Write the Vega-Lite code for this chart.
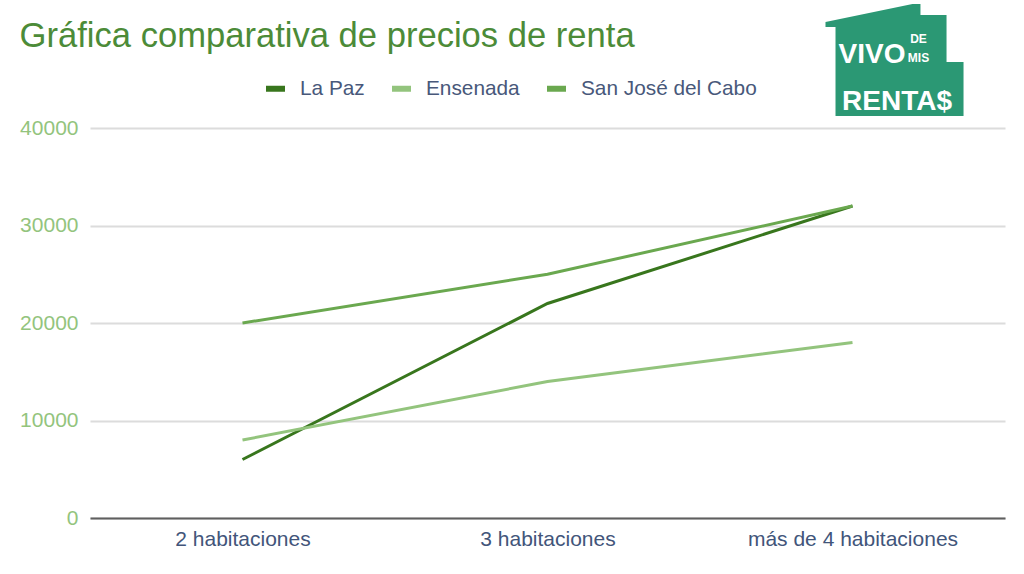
{
  "$schema": "https://vega.github.io/schema/vega-lite/v6.json",
  "width": 915,
  "height": 390,
  "autosize": {"type": "none"},
  "padding": {"left": 90, "top": 128, "right": 19, "bottom": 56},
  "background": "#ffffff",
  "config": {"view": {"stroke": null}, "font": "Liberation Sans"},
  "title": {
    "text": "Gráfica comparativa de precios de renta",
    "anchor": "start",
    "offset": -78,
    "baseline": "alphabetic",
    "fontSize": 34.6,
    "fontWeight": "normal",
    "color": "#4c8b38",
    "font": "Liberation Sans"
  },
  "data": {
    "values": [
      {"ciudad": "La Paz", "habitaciones": "2 habitaciones", "precio": 6000},
      {"ciudad": "La Paz", "habitaciones": "3 habitaciones", "precio": 22000},
      {"ciudad": "La Paz", "habitaciones": "más de 4 habitaciones", "precio": 32000},
      {"ciudad": "Ensenada", "habitaciones": "2 habitaciones", "precio": 8000},
      {"ciudad": "Ensenada", "habitaciones": "3 habitaciones", "precio": 14000},
      {"ciudad": "Ensenada", "habitaciones": "más de 4 habitaciones", "precio": 18000},
      {"ciudad": "San José del Cabo", "habitaciones": "2 habitaciones", "precio": 20000},
      {"ciudad": "San José del Cabo", "habitaciones": "3 habitaciones", "precio": 25000},
      {"ciudad": "San José del Cabo", "habitaciones": "más de 4 habitaciones", "precio": 32000}
    ]
  },
  "layer": [
    {
      "mark": {"type": "line", "strokeWidth": 3},
      "encoding": {
        "x": {
          "field": "habitaciones",
          "type": "nominal",
          "sort": ["2 habitaciones", "3 habitaciones", "más de 4 habitaciones"],
          "scale": {"type": "point", "padding": 0.5},
          "axis": {
            "title": null,
            "labelAngle": 0,
            "labelFontSize": 21,
            "labelFont": "Liberation Sans",
            "labelColor": "#42557a",
            "labelPadding": 10,
            "labelLimit": 400,
            "ticks": false,
            "domainColor": "#5f5f5f",
            "domainWidth": 2,
            "grid": false
          }
        },
        "y": {
          "field": "precio",
          "type": "quantitative",
          "scale": {"domain": [0, 40000], "nice": false},
          "axis": {
            "title": null,
            "values": [0, 10000, 20000, 30000, 40000],
            "format": "d",
            "labelFontSize": 21,
            "labelFont": "Liberation Sans",
            "labelColor": "#93c47d",
            "labelPadding": 12,
            "ticks": false,
            "domain": false,
            "gridColor": "#dcdcdc",
            "gridWidth": 2
          }
        },
        "color": {
          "field": "ciudad",
          "type": "nominal",
          "scale": {
            "domain": ["La Paz", "Ensenada", "San José del Cabo"],
            "range": ["#38761d", "#93c47d", "#6aa84f"]
          },
          "legend": {
            "title": null,
            "orient": "none",
            "direction": "horizontal",
            "legendX": 173,
            "legendY": -52,
            "padding": 0,
            "symbolType": "stroke",
            "symbolSize": 361,
            "symbolStrokeWidth": 6,
            "labelFontSize": 20.8,
            "labelFont": "Liberation Sans",
            "labelColor": "#48587a",
            "labelOffset": 12,
            "labelLimit": 400,
            "columnPadding": 15
          }
        }
      }
    },
    {
      "data": {"values": [{}]},
      "mark": {
        "type": "point",
        "shape": "M-0.375,-0.660 L0.833,-0.910 L0.944,-0.910 L0.944,-0.757 L1.306,-0.757 L1.306,-0.104 L1.542,-0.104 L1.542,0.646 L-0.236,0.646 L-0.236,-0.590 L-0.375,-0.590 Z",
        "size": 20736,
        "filled": true,
        "color": "#2b9874",
        "opacity": 1,
        "strokeWidth": 0
      },
      "encoding": {
        "x": {"datum": "más de 4 habitaciones"},
        "y": {"datum": 46000}
      }
    },
    {
      "data": {"values": [{}]},
      "mark": {"type": "text", "text": "VIVO", "align": "center", "baseline": "alphabetic", "dx": 19.5, "fontSize": 28, "fontWeight": "bold", "font": "Liberation Sans", "color": "#ffffff"},
      "encoding": {
        "x": {"datum": "más de 4 habitaciones"},
        "y": {"datum": 46667}
      }
    },
    {
      "data": {"values": [{}]},
      "mark": {"type": "text", "text": "DE", "align": "center", "baseline": "alphabetic", "dx": 66, "fontSize": 12, "fontWeight": "bold", "font": "Liberation Sans", "color": "#ffffff"},
      "encoding": {
        "x": {"datum": "más de 4 habitaciones"},
        "y": {"datum": 48718}
      }
    },
    {
      "data": {"values": [{}]},
      "mark": {"type": "text", "text": "MIS", "align": "center", "baseline": "alphabetic", "dx": 66, "fontSize": 12, "fontWeight": "bold", "font": "Liberation Sans", "color": "#ffffff"},
      "encoding": {
        "x": {"datum": "más de 4 habitaciones"},
        "y": {"datum": 46769}
      }
    },
    {
      "data": {"values": [{}]},
      "mark": {"type": "text", "text": "RENTA$", "align": "center", "baseline": "alphabetic", "dx": 44.5, "fontSize": 28, "fontWeight": "bold", "font": "Liberation Sans", "color": "#ffffff"},
      "encoding": {
        "x": {"datum": "más de 4 habitaciones"},
        "y": {"datum": 41846}
      }
    }
  ]
}
